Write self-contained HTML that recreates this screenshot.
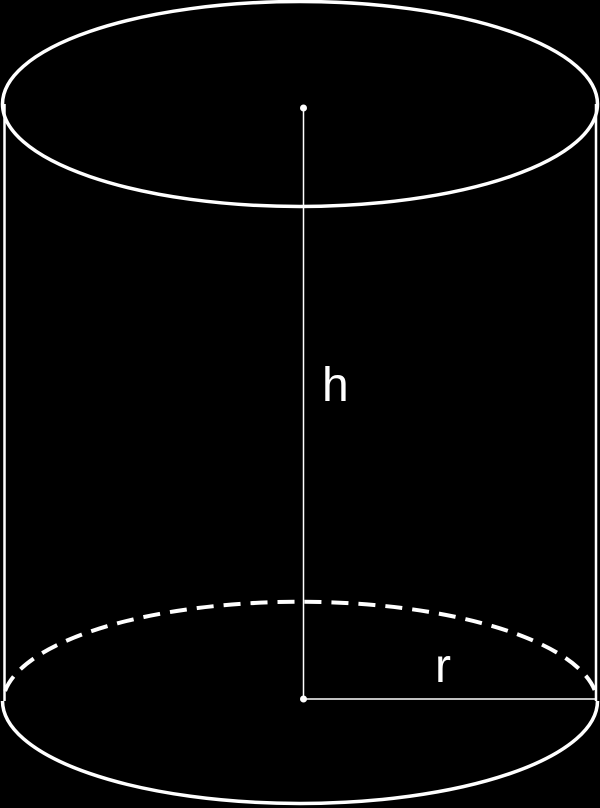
<!DOCTYPE html>
<html><head><meta charset="utf-8"><style>html,body{margin:0;padding:0;background:#000;}svg{display:block}</style></head>
<body>
<svg width="600" height="808" viewBox="0 0 600 808">
<rect width="600" height="808" fill="#000"/>
<line x1="4.5" y1="104" x2="4.5" y2="701" stroke="#fff" stroke-width="2.5"/>
<line x1="596" y1="104" x2="596" y2="701" stroke="#fff" stroke-width="2.5"/>
<ellipse cx="300" cy="104" rx="297.5" ry="102.5" fill="none" stroke="#fff" stroke-width="3.5"/>
<path d="M2.5,701 A297.5,102.5 0 0 0 597.5,701" fill="none" stroke="#fff" stroke-width="3.5"/>
<path d="M5,691 A297.5,102.5 0 0 1 595,691" fill="none" stroke="#fff" stroke-width="4" stroke-dasharray="17 10"/>
<line x1="303.5" y1="108" x2="303.5" y2="699" stroke="#fff" stroke-width="1.5"/>
<line x1="303.5" y1="699" x2="597" y2="699" stroke="#fff" stroke-width="1.5"/>
<circle cx="303.5" cy="108" r="3.5" fill="#fff"/>
<circle cx="303.5" cy="699" r="3.5" fill="#fff"/>
<text x="322" y="401" font-family="Liberation Sans, sans-serif" font-size="48" fill="#fff">h</text>
<text x="435" y="682" font-family="Liberation Sans, sans-serif" font-size="48" fill="#fff">r</text>
</svg>
</body></html>
